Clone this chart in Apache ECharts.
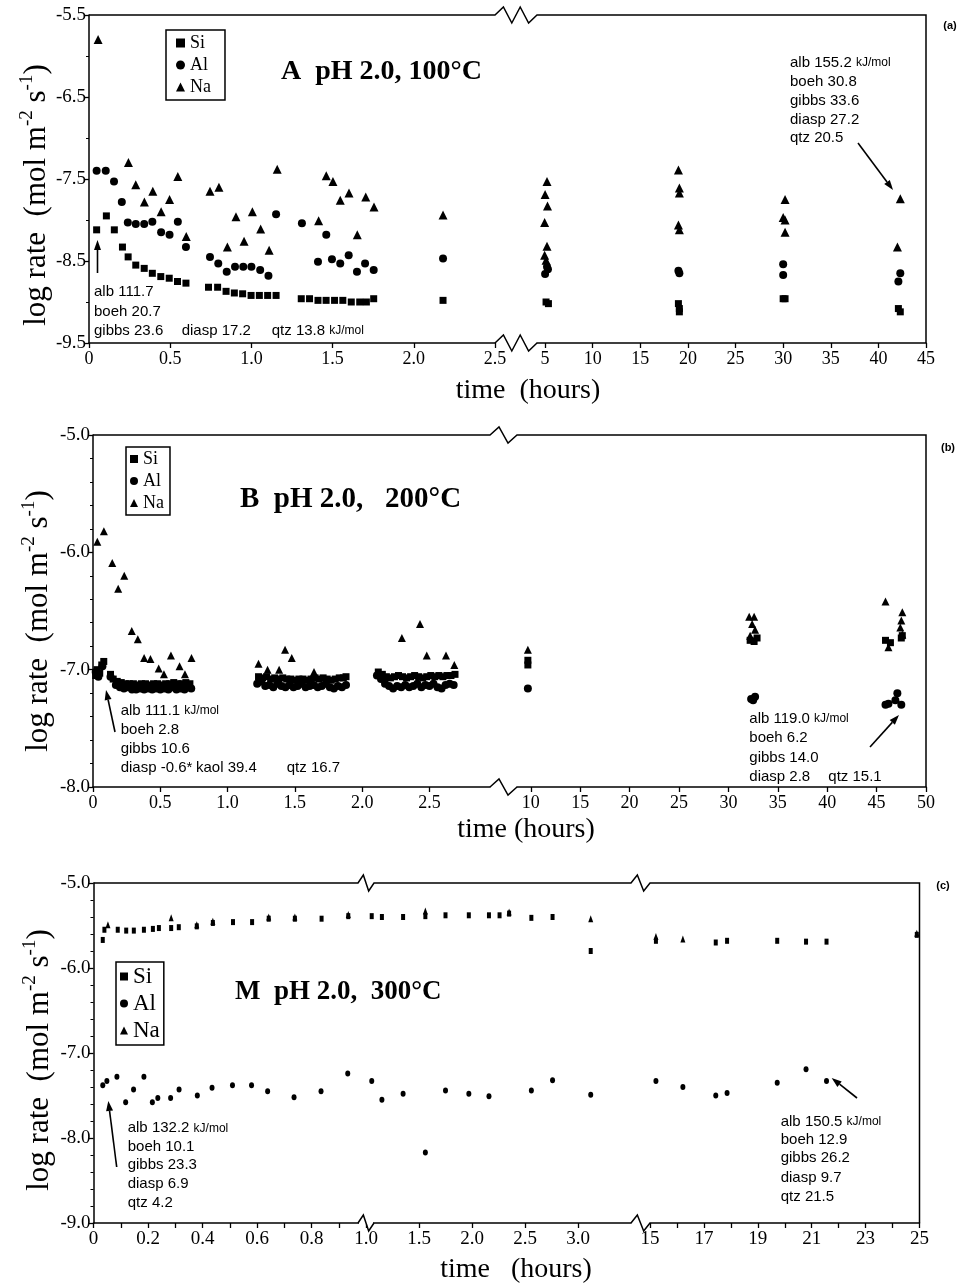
<!DOCTYPE html>
<html><head><meta charset="utf-8">
<script src="https://cdn.jsdelivr.net/npm/echarts@6/dist/echarts.min.js"></script>
<style>html,body{margin:0;padding:0;background:#fff}#c{width:961px;height:1288px}</style>
</head><body><div id="c"></div>
<script>
// ---------- Panel A (pH 2.0, 100°C): [time h, log rate] ----------
const aSi = [[0.047,-8.12],[0.107,-7.95],[0.156,-8.12],[0.206,-8.33],[0.241,-8.45],[0.288,-8.55],[0.34,-8.59],[0.39,-8.65],[0.442,-8.69],[0.494,-8.71],[0.545,-8.75],[0.597,-8.77],
[0.736,-8.82],[0.792,-8.82],[0.844,-8.87],[0.895,-8.89],[0.946,-8.90],[0.998,-8.92],[1.049,-8.92],[1.1,-8.92],[1.152,-8.92],
[1.307,-8.96],[1.358,-8.96],[1.41,-8.98],[1.46,-8.98],[1.512,-8.98],[1.563,-8.98],[1.615,-9.0],[1.667,-9.0],[1.708,-9.0],[1.753,-8.96],
[2.18,-8.98],[5.1,-9.0],[5.35,-9.02],[19.0,-9.02],[19.1,-9.08],[19.1,-9.12],[30.0,-8.96],[30.2,-8.96],[42.1,-9.08],[42.3,-9.12]];
const aAl = [[0.047,-7.40],[0.103,-7.40],[0.154,-7.53],[0.202,-7.78],[0.239,-8.03],[0.288,-8.05],[0.34,-8.05],[0.39,-8.02],[0.444,-8.15],[0.496,-8.18],[0.547,-8.02],[0.597,-8.33],
[0.745,-8.45],[0.796,-8.53],[0.848,-8.63],[0.899,-8.57],[0.95,-8.57],[1.0,-8.57],[1.054,-8.61],[1.105,-8.68],[1.152,-7.93],
[1.311,-8.04],[1.41,-8.51],[1.461,-8.18],[1.496,-8.48],[1.547,-8.53],[1.599,-8.43],[1.65,-8.63],[1.70,-8.53],[1.753,-8.61],
[2.18,-8.47],[5.2,-8.57],[5.0,-8.66],[5.3,-8.60],[19.0,-8.62],[19.1,-8.65],[30.0,-8.54],[30.0,-8.67],[42.3,-8.65],[42.1,-8.75]];
const aNa = [[0.056,-5.80],[0.243,-7.30],[0.288,-7.57],[0.341,-7.78],[0.393,-7.65],[0.444,-7.90],[0.496,-7.75],[0.547,-7.47],[0.599,-8.20],
[0.745,-7.65],[0.8,-7.60],[0.852,-8.33],[0.905,-7.96],[0.955,-8.26],[1.006,-7.90],[1.057,-8.11],[1.109,-8.37],[1.159,-7.38],
[1.414,-8.01],[1.461,-7.46],[1.502,-7.53],[1.547,-7.76],[1.601,-7.67],[1.652,-8.18],[1.704,-7.72],[1.755,-7.84],
[2.18,-7.94],[5.2,-7.53],[5.0,-7.69],[5.25,-7.83],[4.95,-8.03],[5.2,-8.32],[4.95,-8.43],[5.1,-8.49],
[19.0,-7.39],[19.1,-7.61],[19.1,-7.67],[19.0,-8.06],[19.1,-8.12],[30.2,-7.75],[30.0,-7.97],[30.2,-8.0],[30.2,-8.15],[42.3,-7.74],[42.0,-8.33]];

// ---------- Panel B (pH 2.0, 200°C) ----------
const bSi = [[0.02,-7.05],[0.03,-7.00],[0.05,-7.03],[0.065,-6.96],[0.08,-6.93],[0.13,-7.04],[0.15,-7.08],
[0.18,-7.10],[0.21,-7.11],[0.24,-7.12],[0.27,-7.12],[0.30,-7.12],[0.33,-7.13],[0.36,-7.12],[0.39,-7.12],[0.42,-7.13],[0.45,-7.12],[0.48,-7.12],[0.51,-7.13],[0.54,-7.12],[0.57,-7.12],[0.60,-7.11],[0.63,-7.12],[0.66,-7.12],[0.69,-7.11],[0.72,-7.12],
[1.23,-7.06],[1.26,-7.07],[1.29,-7.06],[1.32,-7.08],[1.35,-7.07],[1.38,-7.08],[1.41,-7.07],[1.44,-7.08],[1.47,-7.08],[1.50,-7.09],[1.53,-7.08],[1.56,-7.08],[1.59,-7.09],[1.62,-7.08],[1.65,-7.07],[1.68,-7.08],[1.71,-7.07],[1.74,-7.08],[1.77,-7.09],[1.80,-7.08],[1.83,-7.07],[1.86,-7.07],[1.88,-7.06],
[2.12,-7.02],[2.15,-7.04],[2.18,-7.06],[2.21,-7.07],[2.24,-7.06],[2.27,-7.05],[2.30,-7.06],[2.33,-7.07],[2.36,-7.06],[2.39,-7.05],[2.42,-7.06],[2.45,-7.07],[2.48,-7.06],[2.51,-7.05],[2.54,-7.06],[2.57,-7.05],[2.60,-7.06],[2.63,-7.05],[2.66,-7.05],[2.69,-7.04],
[9.7,-6.92],[9.7,-6.96],[32.2,-6.75],[32.6,-6.76],[32.9,-6.73],[45.9,-6.75],[46.4,-6.77],[47.5,-6.73],[47.6,-6.71]];
const bAl = [[0.02,-7.02],[0.04,-7.06],[0.07,-6.97],[0.13,-7.06],
[0.17,-7.13],[0.20,-7.15],[0.23,-7.16],[0.26,-7.15],[0.29,-7.17],[0.32,-7.17],[0.35,-7.16],[0.38,-7.17],[0.41,-7.16],[0.44,-7.17],[0.47,-7.16],[0.50,-7.17],[0.53,-7.16],[0.56,-7.17],[0.59,-7.15],[0.62,-7.17],[0.65,-7.16],[0.68,-7.17],[0.71,-7.15],[0.73,-7.16],
[1.22,-7.12],[1.25,-7.10],[1.28,-7.14],[1.31,-7.13],[1.34,-7.15],[1.37,-7.12],[1.40,-7.14],[1.43,-7.15],[1.46,-7.13],[1.49,-7.15],[1.52,-7.14],[1.55,-7.12],[1.58,-7.15],[1.61,-7.14],[1.64,-7.13],[1.67,-7.15],[1.70,-7.14],[1.73,-7.12],[1.76,-7.15],[1.79,-7.16],[1.82,-7.14],[1.85,-7.15],[1.88,-7.13],
[2.11,-7.05],[2.14,-7.08],[2.17,-7.12],[2.20,-7.14],[2.23,-7.16],[2.26,-7.14],[2.29,-7.15],[2.32,-7.13],[2.35,-7.15],[2.38,-7.14],[2.41,-7.12],[2.44,-7.15],[2.47,-7.13],[2.50,-7.14],[2.53,-7.12],[2.56,-7.15],[2.59,-7.16],[2.62,-7.13],[2.65,-7.12],[2.68,-7.13],
[9.7,-7.16],[32.3,-7.25],[32.7,-7.23],[32.5,-7.26],[45.9,-7.30],[46.2,-7.29],[47.1,-7.20],[47.5,-7.30],[46.9,-7.26]];
const bNa = [[0.032,-5.91],[0.081,-5.82],[0.143,-6.09],[0.187,-6.31],[0.232,-6.20],[0.288,-6.67],[0.333,-6.74],[0.38,-6.90],[0.427,-6.91],[0.488,-6.99],[0.527,-7.04],[0.579,-6.88],[0.643,-6.97],[0.683,-7.04],[0.732,-6.90],
[1.23,-6.95],[1.297,-7.00],[1.383,-7.00],[1.427,-6.83],[1.477,-6.90],[1.642,-7.02],
[2.295,-6.73],[2.43,-6.61],[2.48,-6.88],[2.623,-6.88],[2.685,-6.96],
[9.7,-6.83],[32.1,-6.55],[32.6,-6.55],[32.4,-6.61],[32.7,-6.66],[32.2,-6.71],[45.9,-6.42],[47.6,-6.51],[47.5,-6.58],[47.4,-6.64],[47.6,-6.70],[46.2,-6.81]];

// ---------- Panel C (pH 2.0, 300°C) ----------
const cSi = [[0.034,-5.67],[0.04,-5.55],[0.089,-5.55],[0.12,-5.56],[0.148,-5.56],[0.185,-5.55],[0.218,-5.54],[0.24,-5.53],[0.285,-5.53],[0.313,-5.52],[0.379,-5.51],[0.438,-5.47],[0.512,-5.46],[0.582,-5.46],[0.643,-5.42],[0.739,-5.42],[0.837,-5.42],[0.935,-5.39],
[1.054,-5.39],[1.15,-5.40],[1.35,-5.40],[1.56,-5.39],[1.75,-5.38],[1.97,-5.38],[2.16,-5.38],[2.26,-5.38],[2.35,-5.36],[2.56,-5.41],[2.76,-5.40],[3.12,-5.80],
[15.22,-5.68],[17.44,-5.70],[17.86,-5.68],[19.72,-5.68],[20.79,-5.69],[21.55,-5.69],[24.9,-5.61]];
const cAl = [[0.034,-7.38],[0.049,-7.33],[0.086,-7.28],[0.118,-7.58],[0.147,-7.43],[0.185,-7.28],[0.216,-7.58],[0.236,-7.53],[0.283,-7.53],[0.314,-7.43],[0.381,-7.50],[0.435,-7.41],[0.51,-7.38],[0.58,-7.38],[0.639,-7.45],[0.736,-7.52],[0.835,-7.45],[0.933,-7.24],
[1.054,-7.33],[1.15,-7.55],[1.35,-7.48],[1.56,-8.17],[1.75,-7.44],[1.97,-7.48],[2.16,-7.51],[2.56,-7.44],[2.76,-7.32],[3.12,-7.49],
[15.22,-7.33],[16.22,-7.40],[17.44,-7.50],[17.86,-7.47],[19.72,-7.35],[20.79,-7.19],[21.55,-7.33]];
const cNa = [[0.053,-5.49],[0.285,-5.41],[0.379,-5.49],[0.438,-5.45],[0.643,-5.40],[0.739,-5.40],[0.935,-5.37],[1.56,-5.33],[2.35,-5.34],[3.12,-5.42],[15.22,-5.63],[16.22,-5.66],[24.9,-5.59]];

// ---------- tick / label values ----------
const aTicksLeft = [0, 0.5, 1.0, 1.5, 2.0, 2.5];
const aTicksRight = [5, 10, 15, 20, 25, 30, 35, 40, 45];
const bTicksLeft = [0, 0.5, 1.0, 1.5, 2.0, 2.5];
const bTicksRight = [10, 15, 20, 25, 30, 35, 40, 45, 50];
const cTicks1 = [0, 0.1, 0.2, 0.3, 0.4, 0.5, 0.6, 0.7, 0.8, 0.9, 1.0];
const cLabels1 = [0, 0.2, 0.4, 0.6, 0.8, 1.0];
const cTicks2 = [1.5, 2.0, 2.5, 3.0];
const cTicks3 = [15, 16, 17, 18, 19, 20, 21, 22, 23, 24, 25];
const cLabels3 = [15, 17, 19, 21, 23, 25];

const SERIF = 'Liberation Serif';
const SANS = 'Liberation Sans';

const panels = [
  { si: aSi, al: aAl, na: aNa, yMin: -9.5, yMax: -5.5, minor: 2, top: 15, height: 328, xFont: 18, yFont: 19,
    sym: { rect: 7, circle: 8, triangle: 9 }, zig: 4, nameGap: 33, nameShift: 32,
    segs: [ { min: 0, max: 2.5, left: 89, width: 406, ticks: aTicksLeft, labels: aTicksLeft, dec: true },
            { min: 4.15, max: 45, left: 537, width: 389, ticks: aTicksRight, labels: aTicksRight, dec: false } ] },
  { si: bSi, al: bAl, na: bNa, yMin: -8, yMax: -5, minor: 5, top: 435, height: 352, xFont: 18, yFont: 19,
    sym: { rect: 7, circle: 8, triangle: 8 }, zig: 2, nameGap: 35, nameShift: 20,
    segs: [ { min: 0, max: 2.95, left: 93, width: 397, ticks: bTicksLeft, labels: bTicksLeft, dec: true },
            { min: 8.6, max: 50, left: 517, width: 409, ticks: bTicksRight, labels: bTicksRight, dec: false } ] },
  { si: cSi, al: cAl, na: cNa, yMin: -9, yMax: -5, minor: 5, top: 883, height: 340, xFont: 19, yFont: 19,
    sym: { rect: [4, 6], circle: [5, 6], triangle: [5, 7] }, zig: 2, nameGap: 35, nameShift: 14,
    segs: [ { min: 0, max: 1, left: 93.5, width: 272.5, ticks: cTicks1, labels: cLabels1, dec: true },
            { min: 1, max: 3.5, left: 366, width: 265, ticks: cTicks2, labels: cTicks2, dec: true },
            { min: 15, max: 25, left: 650, width: 269.5, ticks: cTicks3, labels: cLabels3, dec: false } ] }
];

const grid = [], xAxis = [], yAxis = [], series = [], elements = [];
const yName = '{a|log rate  (mol m}{s|-2}{a| s}{s|-1}{a|)}';

panels.forEach((p) => {
  p.segs.forEach((s, si) => {
    const gi = grid.length;
    grid.push({ left: s.left, top: p.top, width: s.width, height: p.height });
    xAxis.push({
      type: 'value', gridIndex: gi, min: s.min, max: s.max,
      axisLine: { show: true, lineStyle: { color: '#000', width: 1.5 } },
      axisTick: { show: true, inside: false, length: 5, lineStyle: { color: '#000', width: 1.3 }, customValues: s.ticks },
      axisLabel: { customValues: s.labels, color: '#000', fontFamily: SERIF, fontSize: p.xFont, margin: 7,
        formatter: (v) => s.dec ? (v === 0 ? '0' : v.toFixed(1)) : String(v) },
      splitLine: { show: false }
    });
    yAxis.push({
      type: 'value', gridIndex: gi, min: p.yMin, max: p.yMax, interval: 1, show: si === 0,
      axisLine: { show: true, lineStyle: { color: '#000', width: 1.5 } },
      axisTick: { show: true, inside: false, length: 5, lineStyle: { color: '#000', width: 1.3 } },
      minorTick: { show: true, splitNumber: p.minor, length: 3, lineStyle: { color: '#000', width: 1 } },
      axisLabel: { color: '#000', fontFamily: SERIF, fontSize: p.yFont, margin: 3, formatter: (v) => v.toFixed(1) },
      splitLine: { show: false },
      name: si === 0 ? yName : '', nameLocation: 'middle', nameGap: p.nameGap, nameRotate: 90,
      nameTextStyle: { padding: [0, p.nameShift, 0, 0], rich: {
        a: { fontFamily: SERIF, fontSize: 31, color: '#000', lineHeight: 38 },
        s: { fontFamily: SERIF, fontSize: 19, color: '#000', verticalAlign: 'top', lineHeight: 38 } } }
    });
    const inSeg = (d) => d.filter((q) => q[0] >= s.min && q[0] <= s.max);
    [['Si', p.si, 'rect'], ['Al', p.al, 'circle'], ['Na', p.na, 'triangle']].forEach(([nm, d, sy]) => {
      series.push({ type: 'scatter', name: nm, xAxisIndex: gi, yAxisIndex: gi, data: inSeg(d),
        symbol: sy, symbolSize: p.sym[sy], itemStyle: { color: '#000', opacity: 1 }, silent: true });
    });
  });

  // frame: top border with break zigzags, right border, bottom break zigzags
  const yT = p.top, yB = p.top + p.height;
  const zz = (x0, x1, y, n, amp) => {
    const pts = [[x0, y]];
    for (let k = 1; k <= n; k++) pts.push([x0 + (x1 - x0) * k / (n + 1), y + (k % 2 ? -amp : amp)]);
    pts.push([x1, y]);
    return pts;
  };
  const top = [];
  const bottomZ = [];
  p.segs.forEach((s, i) => {
    const r = s.left + s.width;
    if (i === 0) top.push([s.left, yT]);
    if (i < p.segs.length - 1) {
      const nx = p.segs[i + 1].left;
      let x0 = r, x1 = nx, n = (nx - r > 30) ? p.zig : 2;
      if (nx - r < 2) { x0 = r - 8; x1 = r + 8; n = 2; }
      top.push(...zz(x0, x1, yT, n, 8));
      bottomZ.push({ x0, x1, n, cover: nx - r < 2 });
    } else {
      top.push([r, yT], [r, yB]);
    }
  });
  elements.push({ type: 'polyline', shape: { points: top }, style: { stroke: '#000', lineWidth: 1.5, fill: null }, z: 50 });
  bottomZ.forEach((b) => {
    if (b.cover) elements.push({ type: 'line', shape: { x1: b.x0 + 1, y1: yB, x2: b.x1 - 1, y2: yB }, style: { stroke: '#fff', lineWidth: 3 }, z: 60 });
    elements.push({ type: 'polyline', shape: { points: zz(b.x0, b.x1, yB, b.n, 8) }, style: { stroke: '#000', lineWidth: 1.5, fill: null }, z: 61 });
  });
});

// titles, axis names, panel labels
const txt = (x, y, text, font, size, opts = {}) => ({
  type: 'text', x, y, z: 70,
  style: Object.assign({ text, fill: '#000', fontFamily: font, fontSize: size, align: 'left', verticalAlign: 'middle' }, opts)
});
elements.push(txt(281, 72, 'A  pH 2.0, 100°C', SERIF, 28, { fontWeight: 'bold' }));
elements.push(txt(240, 500, 'B  pH 2.0,   200°C', SERIF, 29, { fontWeight: 'bold' }));
elements.push(txt(235, 992, 'M  pH 2.0,  300°C', SERIF, 27, { fontWeight: 'bold' }));
elements.push(txt(528, 391, 'time  (hours)', SERIF, 28, { align: 'center' }));
elements.push(txt(526, 830, 'time (hours)', SERIF, 28, { align: 'center' }));
elements.push(txt(516, 1270, 'time   (hours)', SERIF, 28, { align: 'center' }));
elements.push(txt(950, 26, '(a)', SANS, 11, { align: 'center', fontWeight: 'bold' }));
elements.push(txt(948, 448, '(b)', SANS, 11, { align: 'center', fontWeight: 'bold' }));
elements.push(txt(943, 886, '(c)', SANS, 11, { align: 'center', fontWeight: 'bold' }));

// annotations
const notes = [
  [94, 292, 'alb 111.7'], [94, 311.5, 'boeh 20.7'], [94, 331, 'gibbs 23.6'], [181.7, 331, 'diasp 17.2'], [271.7, 331, 'qtz 13.8 {k|kJ/mol}'],
  [790, 63, 'alb 155.2 {k|kJ/mol}'], [790, 82, 'boeh 30.8'], [790, 100.5, 'gibbs 33.6'], [790, 119.5, 'diasp 27.2'], [790, 138, 'qtz 20.5'],
  [120.7, 710.7, 'alb 111.1 {k|kJ/mol}'], [120.7, 730, 'boeh 2.8'], [120.7, 748.5, 'gibbs 10.6'], [120.7, 768, 'diasp -0.6*'], [196, 768, 'kaol 39.4'], [286.7, 768, 'qtz 16.7'],
  [749.3, 719, 'alb 119.0 {k|kJ/mol}'], [749.3, 738.3, 'boeh 6.2'], [749.3, 757.7, 'gibbs 14.0'], [749.3, 777.3, 'diasp 2.8'], [828.3, 777.3, 'qtz 15.1'],
  [127.7, 1128.3, 'alb 132.2 {k|kJ/mol}'], [127.7, 1146.7, 'boeh 10.1'], [127.7, 1165, 'gibbs 23.3'], [127.7, 1184.3, 'diasp 6.9'], [127.7, 1203.3, 'qtz 4.2'],
  [780.7, 1121.7, 'alb 150.5 {k|kJ/mol}'], [780.7, 1140, 'boeh 12.9'], [780.7, 1158.3, 'gibbs 26.2'], [780.7, 1177.7, 'diasp 9.7'], [780.7, 1196.7, 'qtz 21.5']
];
notes.forEach(([x, y, t]) => elements.push(txt(x, y, t, SANS, 15, { rich: { k: { fontFamily: SANS, fontSize: 12, fill: '#000' } } })));

// arrows
const arrow = (x1, y1, x2, y2) => {
  const ang = Math.atan2(y2 - y1, x2 - x1), L = 10, W = 3.5;
  const bx = x2 - L * Math.cos(ang), by = y2 - L * Math.sin(ang);
  const nx = -Math.sin(ang) * W, ny = Math.cos(ang) * W;
  elements.push({ type: 'line', shape: { x1, y1, x2: bx, y2: by }, style: { stroke: '#000', lineWidth: 1.6 }, z: 70 });
  elements.push({ type: 'polygon', shape: { points: [[x2, y2], [bx + nx, by + ny], [bx - nx, by - ny]] }, style: { fill: '#000' }, z: 70 });
};
arrow(97.5, 273, 97.5, 240);
arrow(858, 143, 893, 190);
arrow(115, 732, 106, 690);
arrow(870, 747, 899, 715);
arrow(116.7, 1167, 108.3, 1101);
arrow(857, 1098, 831.7, 1078);

const legendBase = (left, top, size, lh, icon, pad) => ({
  left, top, orient: 'vertical', selectedMode: false, itemWidth: icon, itemHeight: icon, itemGap: 2,
  padding: pad, borderColor: '#000', borderWidth: 1.5, backgroundColor: '#fff',
  textStyle: { fontFamily: SERIF, fontSize: size, color: '#000', lineHeight: lh },
  data: [{ name: 'Si', icon: 'rect' }, { name: 'Al', icon: 'circle' }, { name: 'Na', icon: 'triangle' }]
});

const chart = echarts.init(document.getElementById('c'), null, { renderer: 'canvas' });
chart.setOption({
  animation: false,
  backgroundColor: '#fff',
  grid, xAxis, yAxis, series,
  legend: [
    legendBase(166, 30, 18, 20, 9, [3, 14, 3, 10]),
    legendBase(126, 447, 18, 20, 8, [2, 6, 2, 4]),
    legendBase(116, 962, 23, 25, 8, [2, 4, 2, 4])
  ],
  graphic: { elements }
});
</script></body></html>
